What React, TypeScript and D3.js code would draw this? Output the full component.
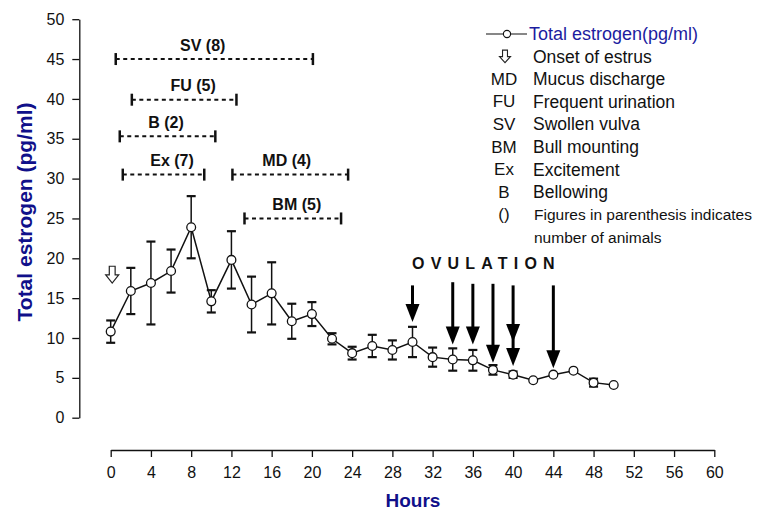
import { useEffect, useRef } from "react";
import * as d3 from "d3";

const HOURS = [0, 2, 4, 6, 8, 10, 12, 14, 16, 18, 20, 22, 24, 26, 28, 30, 32, 34, 36, 38, 40, 42, 44, 46, 48, 50];
const MEAN = [10.8, 15.9, 16.9, 18.4, 23.9, 14.6, 19.8, 14.2, 15.6, 12.1, 13.0, 9.9, 8.1, 9.0, 8.5, 9.5, 7.6, 7.3, 7.2, 6.0, 5.4, 4.7, 5.4, 5.9, 4.4, 4.1];
// standard errors; null where no bar shows outside the marker
const SEM = [1.4, 2.9, 5.2, 2.7, 3.9, 1.4, 3.6, 3.5, 3.9, 2.2, 1.5, 0.7, 0.8, 1.4, 1.2, 1.9, 1.2, 1.4, 1.3, 0.6, 0.4, null, null, null, 0.5, null];

const X_TICKS = [0, 4, 8, 12, 16, 20, 24, 28, 32, 36, 40, 44, 48, 52, 56, 60];
const Y_TICKS = [0, 5, 10, 15, 20, 25, 30, 35, 40, 45, 50];

// estrus signs: duration bars
const SIGN_LABELS = ["SV (8)", "FU (5)", "B (2)", "Ex (7)", "MD (4)", "BM (5)"];
const SIGN_START = [0.5, 2.1, 0.9, 1.2, 12.1, 13.3];
const SIGN_END = [20.1, 12.5, 10.4, 9.3, 23.6, 22.9];
const SIGN_LEVEL = [45, 39.9, 35.3, 30.5, 30.5, 25];
const SIGN_LABEL_HOUR = [9.15, 8.2, 5.5, 6.1, 17.5, 18.5];

const ONSET_HOUR = 0.15;
const ONSET_TOP = 19.0;
const ONSET_TIP = 16.9;

const OVULATION_HOURS = [30, 34, 36, 38, 40, 44];
const OVULATION_TOP = [16.6, 17.0, 16.8, 16.8, 16.6, 16.6];
const OVULATION_TIPS = [[12.0], [9.2], [9.2], [6.9], [9.5, 6.5], [6.2]];

const LEGEND_CODES = ["MD", "FU", "SV", "BM", "Ex", "B", "()"];
const LEGEND_TEXT = [
  "Mucus discharge",
  "Frequent urination",
  "Swollen vulva",
  "Bull mounting",
  "Excitement",
  "Bellowing",
  "Figures in parenthesis indicates",
];

const FONT = "'Liberation Sans', Arial, sans-serif";
const BLUE = "#10108a";

export default function App() {
  const svgRef = useRef<SVGSVGElement | null>(null);

  useEffect(() => {
    const svg = d3.select(svgRef.current);
    svg.selectAll("*").remove();
    const width = 776;
    const height = 511;
    svg.attr("viewBox", `0 0 ${width} ${height}`).attr("font-family", FONT);

    const x = d3.scaleLinear().domain([0, 60]).range([110.7, 714.3]);
    const y = d3.scaleLinear().domain([0, 50]).range([417.7, 19.2]);
    const xAxisY = 450;
    const yAxisX = 79.3;

    // axes
    const gy = svg
      .append("g")
      .attr("transform", `translate(${yAxisX},0)`)
      .call(d3.axisLeft(y).tickValues(Y_TICKS).tickSize(7).tickSizeOuter(0).tickPadding(8));
    gy.selectAll("text").attr("font-size", 16).attr("font-family", FONT).attr("fill", "#111");
    gy.selectAll("line, path").attr("stroke", "#111").attr("stroke-width", 1.3);

    const gx = svg
      .append("g")
      .attr("transform", `translate(0,${xAxisY})`)
      .call(d3.axisBottom(x).tickValues(X_TICKS).tickSize(7).tickSizeOuter(0).tickPadding(10));
    gx.selectAll("text").attr("font-size", 16).attr("font-family", FONT).attr("fill", "#111");
    gx.selectAll("line, path").attr("stroke", "#111").attr("stroke-width", 1.3);

    svg
      .append("text")
      .attr("transform", `translate(24,212) rotate(-90)`)
      .attr("text-anchor", "middle")
      .attr("dominant-baseline", "central")
      .attr("font-size", 21)
      .attr("font-weight", "bold")
      .attr("fill", BLUE)
      .text("Total estrogen (pg/ml)");

    svg
      .append("text")
      .attr("x", 413)
      .attr("y", 500)
      .attr("text-anchor", "middle")
      .attr("dominant-baseline", "central")
      .attr("font-size", 19)
      .attr("font-weight", "bold")
      .attr("fill", BLUE)
      .text("Hours");

    // sign duration bars
    SIGN_LABELS.forEach((label, i) => {
      const g = svg.append("g");
      const yy = y(SIGN_LEVEL[i]);
      g.append("line")
        .attr("x1", x(SIGN_START[i]))
        .attr("x2", x(SIGN_END[i]))
        .attr("y1", yy)
        .attr("y2", yy)
        .attr("stroke", "#111")
        .attr("stroke-width", 2)
        .attr("stroke-dasharray", "4,3.5");
      [SIGN_START[i], SIGN_END[i]].forEach((h) => {
        g.append("line")
          .attr("x1", x(h))
          .attr("x2", x(h))
          .attr("y1", yy - 6)
          .attr("y2", yy + 6)
          .attr("stroke", "#111")
          .attr("stroke-width", 2.5);
      });
      g.append("text")
        .attr("x", x(SIGN_LABEL_HOUR[i]))
        .attr("y", yy - 14)
        .attr("text-anchor", "middle")
        .attr("dominant-baseline", "central")
        .attr("font-size", 16)
        .attr("font-weight", "bold")
        .attr("fill", "#111")
        .text(label);
    });

    const series = HOURS.map((h, i) => ({ h, m: MEAN[i], se: SEM[i] }));

    svg
      .append("path")
      .datum(series)
      .attr("fill", "none")
      .attr("stroke", "#111")
      .attr("stroke-width", 1.5)
      .attr(
        "d",
        d3
          .line<{ h: number; m: number }>()
          .x((d) => x(d.h))
          .y((d) => y(d.m))
      );

    // error bars
    const eb = svg.append("g").attr("stroke", "#111");
    series
      .filter((d) => d.se !== null)
      .forEach((d) => {
        const se = d.se as number;
        const cx = x(d.h);
        eb.append("line")
          .attr("x1", cx)
          .attr("x2", cx)
          .attr("y1", y(d.m + se))
          .attr("y2", y(d.m - se))
          .attr("stroke-width", 1.5);
        [d.m + se, d.m - se].forEach((v) => {
          eb.append("line")
            .attr("x1", cx - 4.5)
            .attr("x2", cx + 4.5)
            .attr("y1", y(v))
            .attr("y2", y(v))
            .attr("stroke-width", 2.2);
        });
      });

    svg
      .selectAll(".dot")
      .data(series)
      .enter()
      .append("circle")
      .attr("class", "dot")
      .attr("cx", (d) => x(d.h))
      .attr("cy", (d) => y(d.m))
      .attr("r", 4.4)
      .attr("fill", "#fff")
      .attr("stroke", "#111")
      .attr("stroke-width", 1.3);

    // onset of estrus (hollow arrow)
    const hollowArrow = (cx: number, top: number, tip: number, w: number) => {
      const stemW = w * 0.45;
      const headH = (tip - top) * 0.48;
      const p = d3.path();
      p.moveTo(cx - stemW / 2, top);
      p.lineTo(cx + stemW / 2, top);
      p.lineTo(cx + stemW / 2, tip - headH);
      p.lineTo(cx + w / 2, tip - headH);
      p.lineTo(cx, tip);
      p.lineTo(cx - w / 2, tip - headH);
      p.lineTo(cx - stemW / 2, tip - headH);
      p.closePath();
      return p.toString();
    };
    svg
      .append("path")
      .attr("d", hollowArrow(x(ONSET_HOUR), y(ONSET_TOP), y(ONSET_TIP), 13))
      .attr("fill", "#fff")
      .attr("stroke", "#222")
      .attr("stroke-width", 1.2);

    // ovulation arrows
    const ov = svg.append("g");
    OVULATION_HOURS.forEach((h, i) => {
      const cx = x(h);
      const tips = OVULATION_TIPS[i];
      const lowest = Math.max(...tips.map((t) => y(t)));
      ov.append("line")
        .attr("x1", cx)
        .attr("x2", cx)
        .attr("y1", y(OVULATION_TOP[i]))
        .attr("y2", lowest - 10)
        .attr("stroke", "#000")
        .attr("stroke-width", 3);
      tips.forEach((t) => {
        const ty = y(t);
        ov.append("path")
          .attr("d", `M${cx - 7},${ty - 18}L${cx + 7},${ty - 18}L${cx},${ty}Z`)
          .attr("fill", "#000");
      });
    });

    svg
      .append("text")
      .attr("x", 412)
      .attr("y", 263)
      .attr("dominant-baseline", "central")
      .attr("font-size", 16)
      .attr("font-weight", "bold")
      .attr("letter-spacing", 6.2)
      .attr("fill", "#111")
      .text("OVULATION");

    // legend
    const lg = svg.append("g");
    const rowY = (i: number) => 34 + i * 22.6;
    lg.append("line")
      .attr("x1", 486)
      .attr("x2", 527)
      .attr("y1", rowY(0))
      .attr("y2", rowY(0))
      .attr("stroke", "#111")
      .attr("stroke-width", 1.2);
    lg.append("circle")
      .attr("cx", 507)
      .attr("cy", rowY(0))
      .attr("r", 3.6)
      .attr("fill", "#fff")
      .attr("stroke", "#111")
      .attr("stroke-width", 1.1);
    lg.append("text")
      .attr("x", 529)
      .attr("y", rowY(0))
      .attr("dominant-baseline", "central")
      .attr("font-size", 18)
      .attr("fill", "#1c1ca0")
      .text("Total estrogen(pg/ml)");

    lg.append("path")
      .attr("d", hollowArrow(505, rowY(1) - 6.5, rowY(1) + 6, 11))
      .attr("fill", "#fff")
      .attr("stroke", "#222")
      .attr("stroke-width", 1.1);
    lg.append("text")
      .attr("x", 533)
      .attr("y", rowY(1))
      .attr("dominant-baseline", "central")
      .attr("font-size", 17.5)
      .attr("fill", "#111")
      .text("Onset of estrus");

    LEGEND_CODES.forEach((code, i) => {
      const yy = rowY(i + 2);
      const small = i === LEGEND_CODES.length - 1;
      lg.append("text")
        .attr("x", 504)
        .attr("y", yy)
        .attr("text-anchor", "middle")
        .attr("dominant-baseline", "central")
        .attr("font-size", 17)
        .attr("fill", "#111")
        .text(code);
      lg.append("text")
        .attr("x", small ? 534 : 533)
        .attr("y", yy)
        .attr("dominant-baseline", "central")
        .attr("font-size", small ? 15.5 : 17.5)
        .attr("fill", "#111")
        .text(LEGEND_TEXT[i]);
    });
    lg.append("text")
      .attr("x", 534)
      .attr("y", rowY(LEGEND_CODES.length + 2))
      .attr("dominant-baseline", "central")
      .attr("font-size", 15.5)
      .attr("fill", "#111")
      .text("number of animals");
  }, []);

  return (
    <svg
      ref={svgRef}
      width={776}
      height={511}
      style={{ position: "absolute", left: 0, top: 0, background: "#fff" }}
    />
  );
}
